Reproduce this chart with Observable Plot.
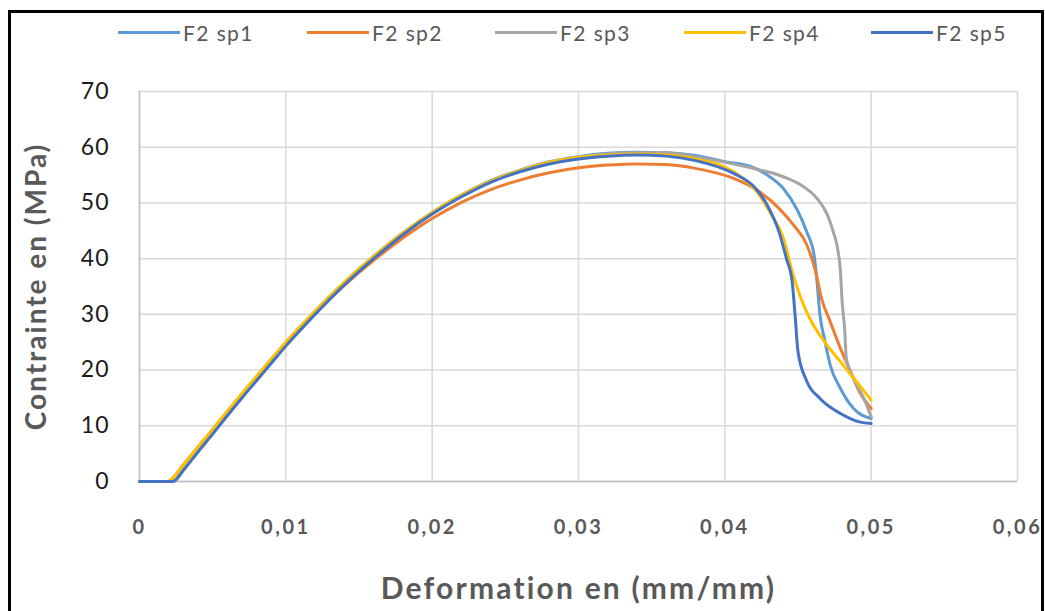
<!DOCTYPE html>
<html>
<head>
<meta charset="utf-8">
<script src="https://cdn.jsdelivr.net/npm/d3@7"></script>
<script src="https://cdn.jsdelivr.net/npm/@observablehq/plot@0.6"></script>
<style>
  html, body { margin: 0; padding: 0; background: #fff; }
  #wrap { position: relative; width: 1045px; height: 611px; overflow: hidden; font-family: Lato, "Open Sans", sans-serif; }
  #frame { position: absolute; left: 8px; top: 10px; width: 1030px; height: 700px; border: 3px solid #000; }
  #legend { position: absolute; left: 0; top: 19px; width: 1045px; height: 26px; }
  .item { position: absolute; top: 0; height: 26px; display: flex; align-items: center; font-size: 21px; letter-spacing: 1.4px; color: #595959; }
  .swatch { width: 62px; height: 3px; margin-right: 3px; }
  #chart { position: absolute; left: 0; top: 55px; }
  #chart g[aria-label="x-axis tick label"] text { letter-spacing: 2.5px; }
  #chart g[aria-label="y-axis tick label"] text { letter-spacing: 1px; }
  #chart .xtitle text { letter-spacing: 2.2px; }
  #chart .ytitle text { letter-spacing: 2px; }
</style>
</head>
<body>
<div id="wrap">
  <div id="frame"></div>
  <div id="legend"></div>
  <div id="chart"></div>
</div>
<script>
const seriesNames = ["F2 sp1", "F2 sp2", "F2 sp3", "F2 sp4", "F2 sp5"];
const seriesColors = ["#5B9BD5", "#ED7D31", "#A5A5A5", "#FFC000", "#4472C4"];
const xTicks = [0, 0.01, 0.02, 0.03, 0.04, 0.05, 0.06];
const xTickLabels = ["0", "0,01", "0,02", "0,03", "0,04", "0,05", "0,06"];
const yTicks = [0, 10, 20, 30, 40, 50, 60, 70];

const sp1X = [0, 0.0021, 0.003, 0.004, 0.005, 0.006, 0.007, 0.008, 0.009, 0.010, 0.012, 0.014, 0.016, 0.018, 0.020, 0.022, 0.024, 0.026, 0.028, 0.030, 0.032, 0.034, 0.036, 0.038, 0.040, 0.0418, 0.0429, 0.044, 0.0449, 0.0456, 0.0461, 0.0463, 0.0465, 0.0468, 0.0472, 0.0479, 0.0488, 0.050];
const sp1Y = [0, 0, 2.7, 6.0, 9.2, 12.4, 15.6, 18.7, 21.8, 24.9, 30.5, 35.7, 40.4, 44.6, 48.3, 51.4, 54.0, 55.9, 57.4, 58.3, 58.9, 59.1, 59.0, 58.5, 57.4, 56.5, 55.0, 52.6, 49.0, 44.8, 40.6, 35.9, 29.9, 25.7, 20.9, 16.7, 13.1, 11.3];

const sp2X = [0, 0.0019, 0.003, 0.004, 0.005, 0.006, 0.007, 0.008, 0.009, 0.010, 0.012, 0.014, 0.016, 0.018, 0.020, 0.022, 0.024, 0.026, 0.028, 0.030, 0.032, 0.034, 0.036, 0.038, 0.0406, 0.0422, 0.0436, 0.0447, 0.0456, 0.0462, 0.0466, 0.0472, 0.0479, 0.0486, 0.0492, 0.050];
const sp2Y = [0, 0, 3.0, 6.2, 9.3, 12.5, 15.6, 18.7, 21.7, 24.7, 30.2, 35.2, 39.7, 43.7, 47.2, 50.1, 52.4, 54.1, 55.4, 56.3, 56.8, 57.0, 56.9, 56.2, 54.4, 52.3, 49.3, 46.0, 42.5, 37.7, 32.9, 28.7, 23.9, 19.7, 16.1, 13.1];

const sp3X = [0, 0.0021, 0.003, 0.004, 0.005, 0.006, 0.007, 0.008, 0.009, 0.010, 0.012, 0.014, 0.016, 0.018, 0.020, 0.022, 0.024, 0.026, 0.028, 0.030, 0.032, 0.034, 0.036, 0.038, 0.040, 0.0418, 0.044, 0.0452, 0.0463, 0.047, 0.0474, 0.0477, 0.0479, 0.048, 0.0482, 0.0483, 0.0488, 0.0495, 0.050];
const sp3Y = [0, 0, 2.7, 6.0, 9.2, 12.4, 15.6, 18.7, 21.8, 24.9, 30.5, 35.7, 40.4, 44.6, 48.2, 51.3, 53.9, 55.8, 57.3, 58.2, 58.8, 59.0, 59.0, 58.3, 57.3, 56.3, 54.7, 53.2, 50.8, 47.9, 44.9, 41.9, 37.7, 32.9, 26.9, 22.1, 18.5, 14.9, 11.6];

const sp4X = [0, 0.0019, 0.003, 0.004, 0.005, 0.006, 0.007, 0.008, 0.009, 0.010, 0.012, 0.014, 0.016, 0.018, 0.020, 0.022, 0.024, 0.026, 0.028, 0.030, 0.032, 0.034, 0.036, 0.038, 0.0406, 0.0422, 0.0432, 0.044, 0.0446, 0.0452, 0.0458, 0.0468, 0.0479, 0.049, 0.050];
const sp4Y = [0, 0, 3.0, 6.2, 9.4, 12.6, 15.8, 18.9, 22.0, 25.0, 30.6, 35.8, 40.4, 44.6, 48.3, 51.4, 53.9, 55.8, 57.3, 58.2, 58.6, 58.8, 58.6, 57.9, 55.6, 52.0, 47.8, 43.7, 37.7, 32.9, 29.3, 25.1, 21.5, 17.9, 14.6];

const sp5X = [0, 0.0023, 0.003, 0.004, 0.005, 0.006, 0.007, 0.008, 0.009, 0.010, 0.012, 0.014, 0.016, 0.018, 0.020, 0.022, 0.024, 0.026, 0.028, 0.030, 0.032, 0.034, 0.036, 0.038, 0.0406, 0.042, 0.0429, 0.0437, 0.0442, 0.0446, 0.0448, 0.045, 0.0456, 0.0465, 0.0479, 0.0492, 0.050];
const sp5Y = [0, 0, 2.0, 5.3, 8.5, 11.8, 15.0, 18.1, 21.2, 24.3, 30.0, 35.3, 40.0, 44.3, 48.0, 51.1, 53.7, 55.6, 57.0, 57.9, 58.4, 58.6, 58.4, 57.6, 55.3, 52.9, 49.6, 44.8, 40.1, 35.9, 29.9, 23.3, 18.0, 14.9, 12.2, 10.7, 10.4];

const allX = [sp1X, sp2X, sp3X, sp4X, sp5X];
const allY = [sp1Y, sp2Y, sp3Y, sp4Y, sp5Y];

const data = [];
seriesNames.forEach((name, i) => {
  allX[i].forEach((x, j) => data.push({series: name, x, y: allY[i][j]}));
});

// legend
const legendLeft = [118, 307, 495, 684, 871];
const legend = document.getElementById("legend");
seriesNames.forEach((name, i) => {
  const it = document.createElement("div");
  it.className = "item";
  it.style.left = legendLeft[i] + "px";
  const sw = document.createElement("div");
  sw.className = "swatch";
  sw.style.background = seriesColors[i];
  const tx = document.createElement("span");
  tx.textContent = name;
  it.appendChild(sw); it.appendChild(tx);
  legend.appendChild(it);
});

const chart = Plot.plot({
  width: 1045,
  height: 556,
  marginLeft: 139,
  marginRight: 28,
  marginTop: 36,
  marginBottom: 130,
  style: {fontFamily: "Lato, 'Open Sans', sans-serif", background: "transparent", overflow: "visible"},
  x: {domain: [0, 0.06]},
  y: {domain: [0, 70]},
  color: {domain: seriesNames, range: seriesColors},
  marks: [
    Plot.gridX(xTicks, {stroke: "#d9d9d9", strokeOpacity: 1, strokeWidth: 1.5}),
    Plot.gridY(yTicks, {stroke: "#d9d9d9", strokeOpacity: 1, strokeWidth: 1.5}),
    Plot.ruleX([0], {stroke: "#bfbfbf", strokeWidth: 1.5}),
    Plot.ruleY([0], {stroke: "#bfbfbf", strokeWidth: 1.5}),
    Plot.axisX({ticks: xTicks, tickFormat: d => xTickLabels[xTicks.indexOf(d)], tickSize: 0, tickPadding: 38, fontSize: 20, fontWeight: "bold", fill: "#595959", label: null}),
    Plot.axisY({ticks: yTicks, tickSize: 0, tickPadding: 30, fontSize: 23, fill: "#1a1a1a", label: null}),
    Plot.line(data, {x: "x", y: "y", z: "series", stroke: "series", strokeWidth: 3, curve: "monotone-x"}),
    Plot.text(["Deformation en (mm/mm)"], {className: "xtitle", frameAnchor: "bottom", dy: 108, fontSize: 30, fontWeight: "bold", fill: "#595959", lineAnchor: "middle", textAnchor: "middle"}),
    Plot.text(["Contrainte en (MPa)"], {className: "ytitle", frameAnchor: "left", dx: -102, rotate: -90, fontSize: 28, fontWeight: "bold", fill: "#595959", lineAnchor: "middle", textAnchor: "middle"})
  ]
});
document.getElementById("chart").appendChild(chart);
</script>
</body>
</html>
